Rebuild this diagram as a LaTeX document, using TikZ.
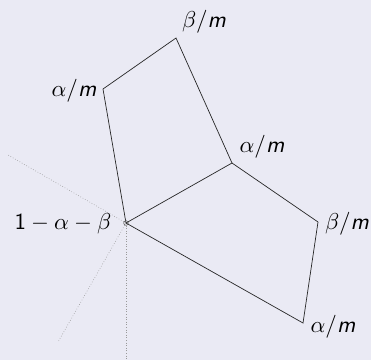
\documentclass[tikz,border=0pt]{standalone}
\definecolor{bgcol}{RGB}{234,234,244}
\newcommand{\mm}{\textsf{\itshape m}}
\tikzset{
  edge/.style={draw=black!85, line width=0.7pt},
  ray/.style={draw=black!40, dotted, line width=0.6pt},
  lab/.style={inner sep=0pt, scale=2.3},
}
\begin{document}
\begin{tikzpicture}[x=1pt,y=-1pt]
\fill[bgcol] (0,0) rectangle (371,360);
\useasboundingbox (0,0) rectangle (371,360);
\coordinate (O) at (126,223);
\coordinate (A1) at (103,89);
\coordinate (B1) at (176,38);
\coordinate (A2) at (232,163);
\coordinate (B2) at (318,222);
\coordinate (A3) at (303,323);
\coordinate (R1) at (8,155);
\coordinate (R2) at (58,342);
\coordinate (R3) at (126,360);
\draw[ray] (O) -- (R1);
\draw[ray] (O) -- (R2);
\draw[ray] (O) -- (R3);
\draw[edge] (O) -- (A1) -- (B1) -- (A2) -- (O);
\draw[edge] (O) -- (A3) -- (B2) -- (A2);
\draw[draw=black!60, line width=0.6pt] (O) circle (2.3);
\node[lab] (lB1) at (204,22) {$\beta/\mm$};
\node[lab] (lA1) at (74,91) {$\alpha/\mm$};
\node[lab] (lA2) at (262,147) {$\alpha/\mm$};
\node[lab] (lB2) at (347,224) {$\beta/\mm$};
\node[lab] (lA3) at (333,327) {$\alpha/\mm$};
\node[lab] (lO) at (63,224) {$\mathsf{1}-\alpha-\beta$};
\end{tikzpicture}
\end{document}
